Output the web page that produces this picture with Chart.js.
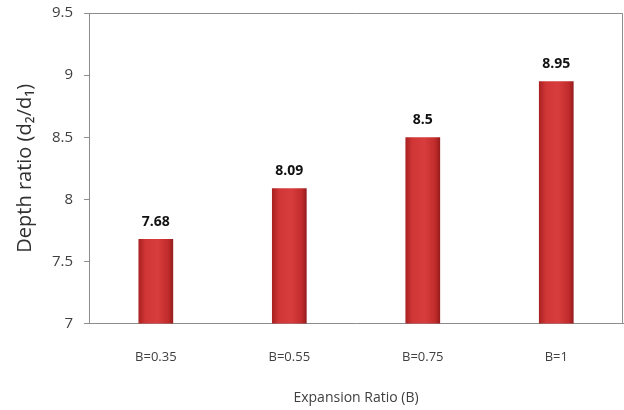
<!DOCTYPE html>
<html>
<head>
<meta charset="utf-8">
<script src="https://cdn.jsdelivr.net/npm/chart.js@4.4.1/dist/chart.umd.min.js"></script>
<style>
  html, body { margin: 0; padding: 0; background: #fff; }
  #wrap { width: 624px; height: 410px; }
</style>
</head>
<body>
<div id="wrap"><canvas id="grafico"></canvas></div>
<script>
// datos
const categorias = ['B=0.35', 'B=0.55', 'B=0.75', 'B=1'];
const valores = [7.68, 8.09, 8.5, 8.95];
const ticksY = [7, 7.5, 8, 8.5, 9, 9.5];

const anchoBarra = 0.26;

// gradiente horizontal para cada barra (efecto cilindro)
function colorBarra(ctx) {
    const chart = ctx.chart;
    if (!chart.chartArea) return '#c83030';
    const x = chart.scales.x.getPixelForValue(ctx.dataIndex);
    const w = (chart.chartArea.width / categorias.length) * anchoBarra;
    const g = chart.ctx.createLinearGradient(x - w / 2, 0, x + w / 2, 0);
    g.addColorStop(0, '#a82020');
    g.addColorStop(0.2, '#d03636');
    g.addColorStop(0.55, '#d83d3d');
    g.addColorStop(0.85, '#c22c2c');
    g.addColorStop(1, '#951c1c');
    return g;
}

// etiquetas arriba de las barras + marco del area
const extras = {
    id: 'extras',
    afterDatasetsDraw(chart) {
        const c = chart.ctx;
        const meta = chart.getDatasetMeta(0);
        c.save();
        c.font = 'bold 14px "Open Sans", sans-serif';
        c.fillStyle = '#111';
        c.textAlign = 'center';
        c.textBaseline = 'bottom';
        meta.data.forEach((bar, i) => {
            c.fillText(String(valores[i]), bar.x, bar.y - 10);
        });
        const a = chart.chartArea;
        c.strokeStyle = '#8c8c8c';
        c.lineWidth = 1;
        c.beginPath();
        c.moveTo(a.left, a.top + 0.5);
        c.lineTo(a.right - 0.5, a.top + 0.5);
        c.lineTo(a.right - 0.5, a.bottom);
        c.stroke();
        c.restore();
    }
};

new Chart(document.getElementById('grafico'), {
    type: 'bar',
    data: {
        labels: categorias,
        datasets: [{
            data: valores,
            backgroundColor: colorBarra,
            borderWidth: 0,
            barPercentage: anchoBarra,
            categoryPercentage: 1
        }]
    },
    options: {
        responsive: true,
        maintainAspectRatio: false,
        animation: false,
        layout: { padding: { top: 4, right: 1, bottom: 4, left: 13 } },
        scales: {
            y: {
                min: 7,
                max: 9.5,
                afterBuildTicks: (axis) => { axis.ticks = ticksY.map(v => ({ value: v })); },
                // el padding de los ticks no debe empujar el area hacia abajo
                afterFit: (axis) => { axis.paddingTop = 13; },
                ticks: {
                    color: '#404040',
                    font: { family: '"Open Sans", sans-serif', size: 15 },
                    padding: 11,
                    callback: (v) => String(v)
                },
                grid: { drawOnChartArea: false, drawTicks: true, tickLength: 5, color: '#8c8c8c' },
                border: { color: '#8c8c8c' },
                title: {
                    display: true,
                    text: 'Depth ratio (d₂/d₁)',
                    color: '#303030',
                    font: { family: '"Open Sans", sans-serif', size: 20 },
                    padding: { top: 0, bottom: 4 }
                }
            },
            x: {
                ticks: {
                    color: '#404040',
                    font: { family: '"Open Sans", sans-serif', size: 13 },
                    padding: 16
                },
                grid: { display: false, tickLength: 10 },
                border: { color: '#8c8c8c' },
                title: {
                    display: true,
                    text: 'Expansion Ratio (B)',
                    color: '#404040',
                    font: { family: '"Open Sans", sans-serif', size: 14 },
                    padding: { top: 8, bottom: 0 }
                }
            }
        },
        plugins: {
            legend: { display: false },
            tooltip: { enabled: false }
        }
    },
    plugins: [extras]
});
</script>
</body>
</html>
